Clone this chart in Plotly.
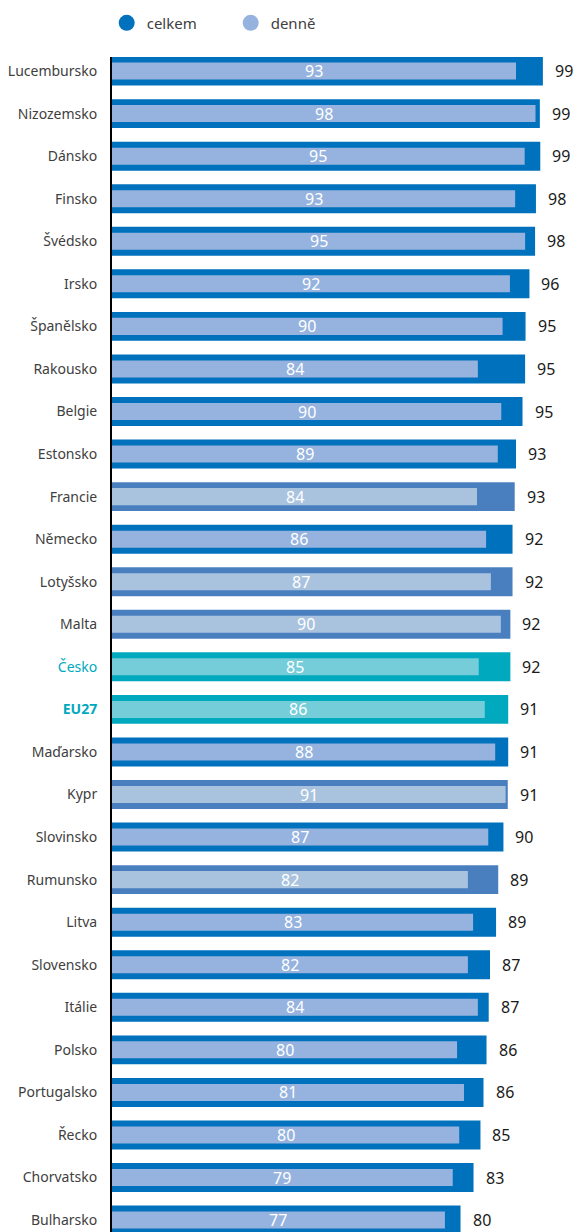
import plotly.graph_objects as go

countries = ["Lucembursko", "Nizozemsko", "Dánsko", "Finsko", "Švédsko", "Irsko",
             "Španělsko", "Rakousko", "Belgie", "Estonsko", "Francie", "Německo",
             "Lotyšsko", "Malta", "Česko", "EU27", "Maďarsko", "Kypr", "Slovinsko",
             "Rumunsko", "Litva", "Slovensko", "Itálie", "Polsko", "Portugalsko",
             "Řecko", "Chorvatsko", "Bulharsko"]
celkem = [99.4, 98.7, 98.8, 97.8, 97.6, 96.3, 95.4, 95.3, 94.7, 93.2, 92.9, 92.4,
          92.4, 91.9, 91.9, 91.4, 91.4, 91.3, 90.3, 89.1, 88.6, 87.2, 86.9, 86.4,
          85.7, 85.0, 83.4, 80.4]
denne = [93.2, 97.7, 95.2, 93.0, 95.3, 91.8, 90.1, 84.4, 89.8, 89.0, 84.2, 86.3,
         87.4, 89.7, 84.6, 86.0, 88.4, 90.8, 86.8, 82.1, 83.3, 82.1, 84.4, 79.6,
         81.2, 80.1, 78.6, 76.8]
# row style groups: 0 = standard, 1 = lighter shade, 2 = highlighted (CZ / EU)
group = [0, 0, 0, 0, 0, 0, 0, 0, 0, 0, 1, 0, 1, 1, 2, 2, 0, 1, 0, 1, 0, 0, 0, 0,
         0, 0, 0, 0]

outer_cols = {0: "#0071BC", 1: "#4A7FBF", 2: "#00A9BD"}
inner_cols = {0: "#95B3DE", 1: "#A9C3DF", 2: "#74CDD9"}

teal = "#00A9BD"
ticktext = []
for c, g in zip(countries, group):
    if c == "EU27":
        ticktext.append(f"<b><span style='color:{teal}'>{c}</span></b>")
    elif c == "Česko":
        ticktext.append(f"<span style='color:{teal}'>{c}</span>")
    else:
        ticktext.append(c)

fig = go.Figure()
fig.add_trace(go.Bar(
    y=countries, x=celkem, orientation="h", width=0.68,
    marker=dict(color=[outer_cols[g] for g in group], line=dict(width=0)),
    showlegend=False, hoverinfo="skip"))
fig.add_trace(go.Bar(
    y=countries, x=denne, orientation="h", width=0.40,
    marker=dict(color=[inner_cols[g] for g in group], line=dict(width=0)),
    showlegend=False, hoverinfo="skip"))

# legend entries
fig.add_trace(go.Scatter(x=[None], y=[None], mode="markers", name="celkem",
                         marker=dict(symbol="circle", size=20, color="#0071BC")))
fig.add_trace(go.Scatter(x=[None], y=[None], mode="markers", name="denně",
                         marker=dict(symbol="circle", size=20, color="#95B3DE")))

for c, v in zip(countries, celkem):
    fig.add_annotation(x=v, y=c, text=f"{v:.0f}", showarrow=False,
                       xanchor="left", xshift=10,
                       font=dict(family="Noto Sans", size=16, color="#1a1a1a"))
for c, v in zip(countries, denne):
    fig.add_annotation(x=v / 2, y=c, text=f"{v:.0f}", showarrow=False,
                       xanchor="center",
                       font=dict(family="Noto Sans", size=16, color="#ffffff"))

fig.update_layout(
    width=578, height=1232,
    margin=dict(l=112, r=0, t=57, b=0),
    barmode="overlay",
    hovermode=False,
    plot_bgcolor="white", paper_bgcolor="white",
    font=dict(family="Noto Sans", size=14, color="#404040"),
    legend=dict(orientation="h", x=-0.0114, y=1.0289, xanchor="left", yanchor="middle",
                entrywidth=79, entrywidthmode="pixels",
                font=dict(size=15, color="#404040"), itemsizing="trace"),
    xaxis=dict(range=[0, 107.5], showgrid=False, showticklabels=False,
               zeroline=False, showline=False, fixedrange=True),
    yaxis=dict(type="category", categoryorder="array", categoryarray=countries,
               tickmode="array", tickvals=countries, ticktext=ticktext,
               range=[27.28, -0.33], showgrid=False, zeroline=False,
               showline=True, linecolor="#000000", linewidth=2,
               ticks="", ticklabelstandoff=10, fixedrange=True,
               tickfont=dict(family="Noto Sans", size=14, color="#404040")),
)

fig.write_html("out.html", config={"displayModeBar": False},
               post_script="document.body.style.margin='0';document.body.style.overflow='hidden';")
